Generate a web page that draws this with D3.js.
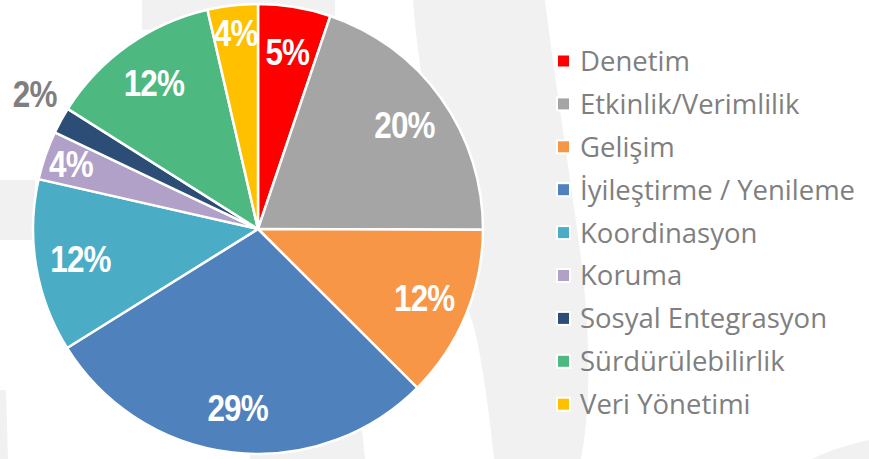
<!DOCTYPE html>
<html>
<head>
<meta charset="utf-8">
<script src="https://cdn.jsdelivr.net/npm/d3@7"></script>
<style>
  html, body { margin: 0; padding: 0; background: #ffffff; }
  svg { display: block; }
</style>
</head>
<body>
<svg id="chart" width="869" height="459"></svg>
<script>
// ---- data ----
const categories = ["Denetim", "Etkinlik/Verimlilik", "Gelişim", "İyileştirme / Yenileme",
  "Koordinasyon", "Koruma", "Sosyal Entegrasyon", "Sürdürülebilirlik", "Veri Yönetimi"];
const values = [5.2, 19.8, 12.4, 28.6, 12.4, 3.5, 1.9, 12.4, 3.6];
const colors = ["#ff0000", "#a5a5a5", "#f79646", "#4f81bd", "#4bacc6",
  "#b1a0c7", "#2c4d75", "#4db880", "#ffc000"];

const W = 869, H = 459;
const svg = d3.select("#chart");

// ---- faint background watermark shapes ----
const bg = svg.append("g").attr("fill", "#f1f1f1");
bg.append("path").attr("d",
  "M413,0 L545,0 C552,60 568,160 580,250 C590,330 592,400 581,459 L494,459 C488,400 478,330 468,310 C450,200 422,120 413,0 Z");
bg.append("path").attr("d", "M142,0 L335,0 L335,18 L142,30 Z");
bg.append("path").attr("d", "M0,180 L35,180 L35,240 L0,240 Z");
bg.append("path").attr("d", "M0,390 L6,390 L8,459 L0,459 Z");
bg.append("path").attr("d", "M250,436 L362,430 L365,459 L250,459 Z");
bg.append("path").attr("d", "M812,459 C830,450 850,444 869,440 L869,459 Z");

// ---- pie ----
const cx = 258, cy = 229, R = 225;
const data = categories.map((c, i) => ({ name: c, v: values[i], color: colors[i] }));
const total = d3.sum(values);
const pie = d3.pie().sort(null).value(d => d.v);
const arcs = pie(data);
const arc = d3.arc().innerRadius(0).outerRadius(R);

const g = svg.append("g").attr("transform", `translate(${cx},${cy})`);
g.selectAll("path.slice").data(arcs).join("path")
  .attr("class", "slice")
  .attr("d", arc)
  .attr("fill", d => d.data.color)
  .attr("stroke", "#ffffff")
  .attr("stroke-width", 2.5)
  .attr("stroke-linejoin", "round");

function labelRadius(d) {
  const p = d.data.v / total * 100;
  if (p < 3) return R + 36;
  if (p < 5) return 198;
  return 180;
}
function labelAngle(d) {
  const a = (d.startAngle + d.endAngle) / 2;
  const p = d.data.v / total * 100;
  return p < 3 ? a + 0.04 : a;
}
g.selectAll("text.pct").data(arcs).join("text")
  .attr("class", "pct")
  .attr("transform", d => {
    const a = labelAngle(d);
    const r = labelRadius(d);
    const x = Math.sin(a) * r, y = -Math.cos(a) * r;
    return `translate(${x},${y}) scale(0.85,1)`;
  })
  .attr("text-anchor", "middle")
  .attr("dy", "0.36em")
  .attr("font-family", "'Liberation Sans', Arial, sans-serif")
  .attr("font-weight", "bold")
  .attr("font-size", 37)
  .attr("letter-spacing", -1)
  .attr("fill", d => (d.data.v / total * 100 < 3) ? "#7f7f7f" : "#ffffff")
  .text(d => Math.round(d.data.v / total * 100) + "%");

// ---- legend ----
const legX = 557, legY0 = 61, legStep = 42.9;
const leg = svg.append("g");
const items = leg.selectAll("g.item").data(data).join("g")
  .attr("class", "item")
  .attr("transform", (d, i) => `translate(${legX},${legY0 + i * legStep})`);
items.append("rect")
  .attr("x", 0).attr("y", -6.5).attr("width", 13).attr("height", 13)
  .attr("fill", d => d.color)
  .attr("stroke", "#ffffff").attr("stroke-width", 2);
items.append("text")
  .attr("x", 23).attr("y", 0).attr("dy", "0.36em")
  .attr("font-family", "'Open Sans', 'Noto Sans', sans-serif")
  .attr("font-size", 27.5)
  .attr("fill", "#7f7f7f")
  .text(d => d.name);
</script>
</body>
</html>
